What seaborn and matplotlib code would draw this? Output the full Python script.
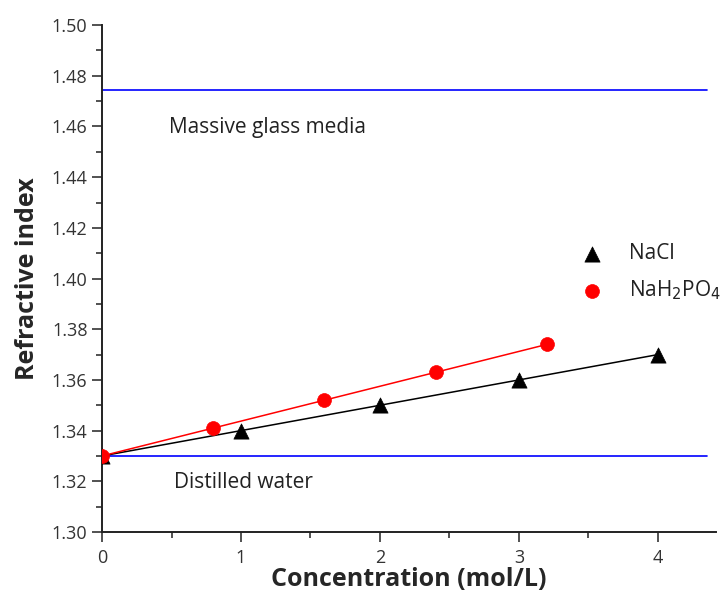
import matplotlib
matplotlib.use("Agg")
import matplotlib.pyplot as plt
import seaborn as sns
import pandas as pd
from matplotlib.ticker import MultipleLocator

# Data
nacl_conc = [0, 1, 2, 3, 4]
nacl_ri = [1.330, 1.340, 1.350, 1.360, 1.370]
nah2po4_conc = [0, 0.8, 1.6, 2.4, 3.2]
nah2po4_ri = [1.330, 1.341, 1.352, 1.363, 1.374]
glass_ri = 1.4745
water_ri = 1.3298
ref_x_range = [0, 4.35]

sns.set_style("ticks")
plt.rcParams['font.family'] = ['Open Sans', 'DejaVu Sans']

fig = plt.figure(figsize=(7.21, 6.02), dpi=100)
ax = fig.add_axes([0.1415, 0.1163, 0.852, 0.842])

df_nacl = pd.DataFrame({"c": nacl_conc, "n": nacl_ri})
df_na = pd.DataFrame({"c": nah2po4_conc, "n": nah2po4_ri})

# reference lines
ax.plot(ref_x_range, [glass_ri, glass_ri], color="#0000ff", lw=1.2, zorder=1)
ax.plot(ref_x_range, [water_ri, water_ri], color="#0000ff", lw=1.2, zorder=1)

sns.regplot(data=df_nacl, x="c", y="n", scatter=False, ci=None, ax=ax,
            line_kws=dict(color="black", lw=1.1))
sns.regplot(data=df_na, x="c", y="n", scatter=False, ci=None, ax=ax,
            line_kws=dict(color="red", lw=1.1))
sns.scatterplot(data=df_nacl, x="c", y="n", marker="^", s=120, color="black",
                edgecolor="black", linewidth=0.5, ax=ax, label="NaCl", zorder=3)
sns.scatterplot(data=df_na, x="c", y="n", marker="o", s=100, color="red",
                edgecolor="red", linewidth=0.5, ax=ax,
                label="NaH$_2$PO$_4$", zorder=4)

ax.text(0.48, 1.4595, "Massive glass media", fontsize=15, color="#222222",
        ha="left", va="center")
ax.text(0.52, 1.3195, "Distilled water", fontsize=15, color="#222222",
        ha="left", va="center")

ax.set_xlim(0, 4.42)
ax.set_ylim(1.30, 1.50)
ax.xaxis.set_major_locator(MultipleLocator(1))
ax.xaxis.set_minor_locator(MultipleLocator(0.5))
ax.yaxis.set_major_locator(MultipleLocator(0.02))
ax.yaxis.set_minor_locator(MultipleLocator(0.01))
ax.set_yticks([1.30, 1.32, 1.34, 1.36, 1.38, 1.40, 1.42, 1.44, 1.46, 1.48, 1.50])
ax.set_yticklabels([f"{v:.2f}" for v in ax.get_yticks()])
ax.tick_params(which="major", length=7, width=1.2, labelsize=13, colors="#333333",
               labelcolor="#333333")
ax.tick_params(which="minor", length=4, width=1.2, colors="#333333")
ax.tick_params(axis="x", pad=5)
for s in ["left", "bottom"]:
    ax.spines[s].set_linewidth(1.4)
    ax.spines[s].set_color("#222222")
sns.despine(ax=ax)

ax.set_xlabel("Concentration (mol/L)", fontsize=18, fontweight="bold", labelpad=0)
ax.set_ylabel("Refractive index", fontsize=18, fontweight="bold", labelpad=8)

leg = ax.legend(loc="upper left", bbox_to_anchor=(0.75, 0.607), frameon=False,
                fontsize=15, handletextpad=1.3, labelspacing=0.7,
                markerscale=1.0, handlelength=1.0)
for t in leg.get_texts():
    t.set_color("#222222")

fig.savefig("out.png", dpi=100)
